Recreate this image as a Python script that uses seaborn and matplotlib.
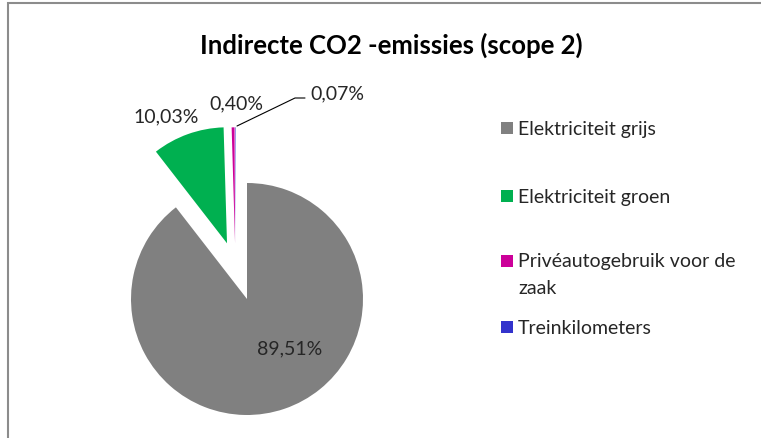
import matplotlib.pyplot as plt
import matplotlib.patches as mpatches
import seaborn as sns

# data
categories = ["Elektriciteit grijs", "Elektriciteit groen",
              "Privéautogebruik voor de\nzaak", "Treinkilometers"]
shares = [89.51, 10.03, 0.40, 0.07]
pct_labels = ["89,51%", "10,03%", "0,40%", "0,07%"]
colors = ["#808080", "#00B050", "#CC0099", "#3333CC"]
explode = [0.0, 0.51, 0.48, 0.48]

sns.set_theme(style="white")
plt.rcParams['font.family'] = ['Lato', 'DejaVu Sans']

W, H = 761, 439
fig = plt.figure(figsize=(W / 100, H / 100), dpi=100)
fig.patch.set_facecolor("white")
# axes in pixel units, y up
ax = fig.add_axes([0, 0, 1, 1])

cx, cy, r = 247, H - 300, 116
wedges, _ = ax.pie(shares, colors=colors, explode=[e * r for e in explode],
                   startangle=90, counterclock=False, center=(cx, cy),
                   radius=r, wedgeprops=dict(linewidth=0))
# Excel puts the thin slices a bit further left than the mid angle
for w in wedges[2:]:
    x0, y0 = w.center
    w.set_center((x0 - 11, y0))

ax.set_xlim(0, W)
ax.set_ylim(0, H)
ax.set_aspect("equal")
ax.axis("off")

fs = 14
ax.text(290, H - 349, pct_labels[0], ha="center", va="center", fontsize=fs)
ax.text(166, H - 117, pct_labels[1], ha="center", va="center", fontsize=fs)
ax.text(236, H - 104, pct_labels[2], ha="center", va="center", fontsize=fs)
ax.text(310, H - 94, pct_labels[3], ha="left", va="center", fontsize=fs)
ax.plot([237, 295, 305], [H - 127, H - 99, H - 99], color="black", lw=0.8)

fig.text(391 / W, 1 - 45 / H, "Indirecte CO2 -emissies (scope 2)",
         ha="center", va="center", fontsize=18.5, fontweight="bold",
         color="black")

# legend drawn by hand to get Excel's uneven spacing
leg_y = [129, 197, 262, 328]
for lab, c, y in zip(categories, colors, leg_y):
    ax.add_patch(mpatches.Rectangle((501, H - y - 6), 12, 12, color=c,
                                    lw=0))
    for k, line in enumerate(lab.split("\n")):
        ax.text(518, H - y - 26 * k, line, ha="left", va="center",
                fontsize=fs)

# chart frame (only top and left edges are visible in the crop)
fig.add_artist(mpatches.Rectangle((8 / W, -0.1), 1.1, 1.1 - 4 / H,
                                  transform=fig.transFigure, fill=False,
                                  edgecolor="#8c8c8c", lw=1.5))

fig.savefig("out.png", dpi=100, facecolor="white")
